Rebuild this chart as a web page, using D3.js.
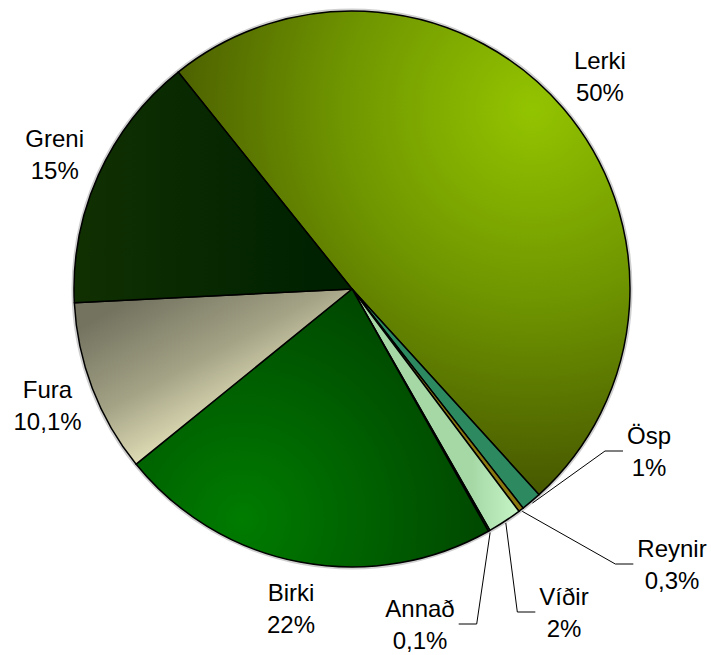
<!DOCTYPE html>
<html>
<head>
<meta charset="utf-8">
<script src="https://cdn.jsdelivr.net/npm/d3@7"></script>
<style>
  body { margin: 0; background: #fff; }
  text { font-family: "Liberation Sans", Arial, sans-serif; font-size: 24px; fill: #000; }
</style>
</head>
<body>
<script>
// tegundir og hlutfall (lesið af myndinni)
var species = ["Lerki", "Ösp", "Reynir", "Víðir", "Annað", "Birki", "Fura", "Greni"];
var shares = [49.2, 1.2, 0.3, 2.0, 0.1, 22.4, 10.1, 15.1];
var pctLabels = ["50%", "1%", "0,3%", "2%", "0,1%", "22%", "10,1%", "15%"];

// litlar sneiðar fá merki með línu (miðja textablokkar)
var callouts = { "Ösp": [649, 452], "Reynir": [672, 565], "Víðir": [564, 613], "Annað": [420, 625] };

var width = 711, height = 655;
var cx = 352, cy = 289, R = 278;
var startDeg = -38.7;

var svg = d3.select("body").append("svg")
    .attr("width", width)
    .attr("height", height);

var defs = svg.append("defs");

function radial(id, x, y, r, stops) {
  var gr = defs.append("radialGradient").attr("id", id)
      .attr("gradientUnits", "userSpaceOnUse")
      .attr("cx", x).attr("cy", y).attr("r", r);
  stops.forEach(function(s) { gr.append("stop").attr("offset", s[0]).attr("stop-color", s[1]); });
}
function linear(id, x1, y1, x2, y2, stops) {
  var gr = defs.append("linearGradient").attr("id", id)
      .attr("gradientUnits", "userSpaceOnUse")
      .attr("x1", x1).attr("y1", y1).attr("x2", x2).attr("y2", y2);
  stops.forEach(function(s) { gr.append("stop").attr("offset", s[0]).attr("stop-color", s[1]); });
}

radial("gLerki", 180, -180, 385, [[0, "#93c400"], [0.5, "#6f9500"], [1, "#475800"]]);
linear("gGreni", -270, 0, -40, 0, [[0, "#103002"], [1, "#002200"]]);
linear("gFura", -200, 0, -120, 150, [[0, "#737360"], [0.5, "#a4a386"], [1, "#f4f1c6"]]);
radial("gBirki", -110, 230, 300, [[0, "#007c00"], [1, "#003c00"]]);
linear("gVidir", 120, 0, 170, 0, [[0, "#a6d8a6"], [1, "#c8f6c8"]]);

var fills = ["url(#gLerki)", "#2d8a60", "#8a7810", "url(#gVidir)", "#2f5f2f",
             "url(#gBirki)", "url(#gFura)", "url(#gGreni)"];

var a0 = startDeg * Math.PI / 180;
var pie = d3.pie().sort(null).startAngle(a0).endAngle(a0 + 2 * Math.PI);
var arcs = pie(shares);

var arc = d3.arc().innerRadius(0).outerRadius(R);
var edgeArc = d3.arc().innerRadius(R + 2).outerRadius(R + 2);
var labelArc = d3.arc().innerRadius(326).outerRadius(326);

var g = svg.append("g").attr("transform", "translate(" + cx + "," + cy + ")");

// ljós kantur utan um kökuna
g.append("circle").attr("r", R + 1)
    .attr("fill", "none")
    .attr("stroke", "#cfcfcf")
    .attr("stroke-width", 3);

g.selectAll("path.slice")
    .data(arcs)
    .enter()
    .append("path")
    .attr("class", "slice")
    .attr("d", arc)
    .attr("fill", function(d, i) { return fills[i]; })
    .attr("stroke", "#000")
    .attr("stroke-width", 1.5)
    .attr("stroke-linejoin", "round");

var labels = svg.append("g");

arcs.forEach(function(d, i) {
  var name = species[i];
  var pos = callouts[name];
  var lx, ly;
  if (pos) { lx = pos[0]; ly = pos[1]; }
  else {
    var c = labelArc.centroid(d);
    lx = cx + c[0]; ly = cy + c[1];
  }
  var t = labels.append("text").attr("text-anchor", "middle");
  var t1 = t.append("tspan").attr("x", lx).attr("y", ly - 8).text(name);
  var t2 = t.append("tspan").attr("x", lx).attr("y", ly + 24).text(pctLabels[i]);

  if (pos) {
    var half = Math.max(t1.node().getComputedTextLength(), t2.node().getComputedTextLength()) / 2;
    var e = edgeArc.centroid(d);
    var sx = cx + e[0], sy = cy + e[1];
    var side = lx > sx ? -1 : 1;
    var endX = lx + side * (half + 4);
    var elbowX = endX + side * 18;
    labels.append("path")
        .attr("d", d3.line()([[sx, sy], [elbowX, ly - 1], [endX, ly - 1]]))
        .attr("fill", "none")
        .attr("stroke", "#000")
        .attr("stroke-width", 1);
  }
});
</script>
</body>
</html>
